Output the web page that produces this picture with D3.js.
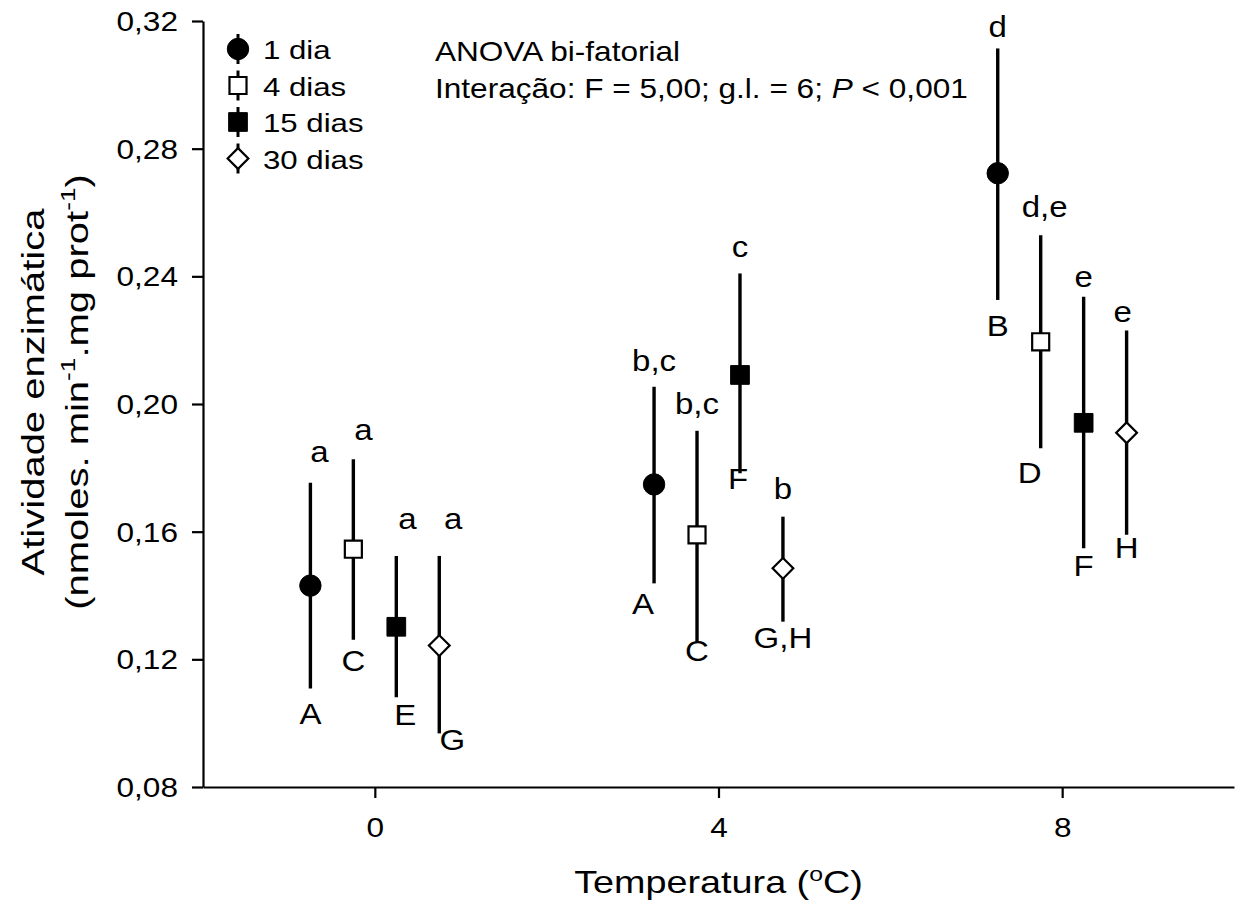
<!DOCTYPE html>
<html>
<head>
<meta charset="utf-8">
<script src="https://cdn.jsdelivr.net/npm/d3@7"></script>
<style>
    body { margin: 0; background: #fff; }
    svg text { font-family: "Liberation Sans", Arial, sans-serif; fill: #000; }
</style>
</head>
<body>
<svg id="chart" width="1239" height="908"></svg>
<script>

// temperatures (x axis) and series
const temperatures = [0, 4, 8];
const seriesNames = ['1 dia', '4 dias', '15 dias', '30 dias'];
const seriesShift = [-0.75, -0.25, 0.25, 0.75];

// means and error bar ends, one value per temperature
const dia1Mean = [0.1431, 0.1748, 0.2723];
const dia1Hi = [0.1753, 0.2054, 0.3114];
const dia1Lo = [0.1109, 0.1438, 0.2326];
const dia4Mean = [0.1545, 0.1590, 0.2195];
const dia4Hi = [0.1827, 0.1916, 0.2529];
const dia4Lo = [0.1261, 0.1255, 0.1861];
const dia15Mean = [0.1302, 0.2091, 0.1941];
const dia15Hi = [0.1524, 0.2409, 0.2336];
const dia15Lo = [0.1081, 0.1783, 0.1548];
const dia30Mean = [0.1243, 0.1485, 0.1910];
const dia30Hi = [0.1524, 0.1647, 0.2230];
const dia30Lo = [0.0968, 0.1318, 0.1590];

// significance letters
const upperLetters = [['a', 'b,c', 'd'], ['a', 'b,c', 'd,e'], ['a', 'c', 'e'], ['a', 'b', 'e']];
const lowerLetters = [['A', 'A', 'B'], ['C', 'C', 'D'], ['E', 'F', 'F'], ['G', 'G,H', 'H']];

const yTicks = [0.08, 0.12, 0.16, 0.20, 0.24, 0.28, 0.32];
const xTicks = [0, 4, 8];

// letter nudges (layout only)
const upDy = [[-30, -25, -20], [-28, -26, -27], [-36, -25, -19], [-36, -27, -18]];
const upDx = [[9, 0, 0], [10, 0, 4], [11, 0, 0], [14, 0, -4]];
const loDy = [[25, 20, 25], [20, 8, 24], [17, 5, 17], [6, 15, 12]];
const loDx = [[0, -11, 0], [0, 0, -11], [9, -2, 0], [13, 0, 0]];

const means = [dia1Mean, dia4Mean, dia15Mean, dia30Mean];
const his = [dia1Hi, dia4Hi, dia15Hi, dia30Hi];
const los = [dia1Lo, dia4Lo, dia15Lo, dia30Lo];
const symbolKind = ['circle', 'square', 'square', 'diamond'];
const symbolFill = ['#000', '#fff', '#000', '#fff'];

const svg = d3.select('#chart');
const stretch = 1.17;

const x = d3.scaleLinear().domain([-2, 10]).range([203, 1234]);
const y = d3.scaleLinear().domain([0.08, 0.32]).range([787, 21]);

function stretchText(sel, s) {
    sel.attr('transform', function () {
        const tx = +this.getAttribute('x') || 0;
        return `translate(${tx},0) scale(${s},1) translate(${-tx},0)`;
    });
}

// axes
let yAxis = svg.append('g')
    .attr('transform', `translate(${x(-2)},0)`)
    .call(d3.axisLeft(y).tickValues(yTicks).tickSize(11).tickSizeOuter(0).tickPadding(14)
        .tickFormat(d => d3.format('.2f')(d).replace('.', ',')));
yAxis.selectAll('text').attr('font-size', 27).attr('dy', '0.35em')
    .style('font-family', '"Liberation Sans", Arial, sans-serif');
stretchText(yAxis.selectAll('text'), stretch);

let xAxis = svg.append('g')
    .attr('transform', `translate(0,${y(0.08)})`)
    .call(d3.axisBottom(x).tickValues(xTicks).tickSize(11).tickSizeOuter(0).tickPadding(20)
        .tickFormat(d3.format('d')));
xAxis.selectAll('text').attr('font-size', 27)
    .style('font-family', '"Liberation Sans", Arial, sans-serif');
xAxis.selectAll('text').attr('transform', `scale(${stretch},1)`);

svg.selectAll('.domain, .tick line').attr('stroke', '#000').attr('stroke-width', 2.2);

// axis titles
svg.append('text')
    .attr('font-size', 32)
    .attr('text-anchor', 'middle')
    .attr('transform', `translate(${(x(-2) + x(10)) / 2},893) scale(1.18,1)`)
    .call(t => {
        t.append('tspan').text('Temperatura (');
        t.append('tspan').attr('font-size', 21).attr('dy', -12).text('o');
        t.append('tspan').attr('dy', 12).text('C)');
    });

let yTitle = svg.append('g')
    .attr('transform', `translate(0,${(y(0.08) + y(0.32)) / 2 - 12}) rotate(-90) scale(1.25,1)`);
yTitle.append('text')
    .attr('font-size', 32).attr('text-anchor', 'middle').attr('y', 44)
    .text('Atividade enzimática');
yTitle.append('text')
    .attr('font-size', 32).attr('text-anchor', 'middle').attr('y', 88)
    .call(t => {
        t.append('tspan').text('(nmoles. min');
        t.append('tspan').attr('font-size', 21).attr('dy', -13).text('-1');
        t.append('tspan').attr('dy', 13).text('.mg prot');
        t.append('tspan').attr('font-size', 21).attr('dy', -13).text('-1');
        t.append('tspan').attr('dy', 13).text(')');
    });

// symbols
function drawSymbol(g, kind, fill) {
    if (kind === 'circle') {
        g.append('path').attr('d', d3.symbol(d3.symbolCircle, 360)())
            .attr('fill', fill).attr('stroke', '#000').attr('stroke-width', 1);
    } else if (kind === 'square') {
        g.append('path').attr('d', d3.symbol(d3.symbolSquare, fill === '#000' ? 350 : 290)())
            .attr('fill', fill).attr('stroke', '#000').attr('stroke-width', fill === '#000' ? 1 : 2.2);
    } else {
        g.append('path').attr('d', d3.symbol(d3.symbolSquare, 215)())
            .attr('transform', 'rotate(45)')
            .attr('fill', fill).attr('stroke', '#000').attr('stroke-width', 2.2);
    }
}

const plot = svg.append('g');

seriesNames.forEach((name, i) => {
    temperatures.forEach((t, j) => {
        let cx = x(t + seriesShift[i]);
        plot.append('line')
            .attr('x1', cx).attr('x2', cx)
            .attr('y1', y(his[i][j])).attr('y2', y(los[i][j]))
            .attr('stroke', '#000').attr('stroke-width', 3.4);
        let g = plot.append('g').attr('transform', `translate(${cx},${y(means[i][j])})`);
        drawSymbol(g, symbolKind[i], symbolFill[i]);

        plot.append('text')
            .attr('font-size', 30).attr('text-anchor', 'middle')
            .attr('transform', `translate(${cx + upDx[i][j]},${y(his[i][j]) + upDy[i][j] + 9}) scale(1.1,1)`)
            .text(upperLetters[i][j]);
        plot.append('text')
            .attr('font-size', 30).attr('text-anchor', 'middle')
            .attr('transform', `translate(${cx + loDx[i][j]},${y(los[i][j]) + loDy[i][j] + 11}) scale(1.1,1)`)
            .text(lowerLetters[i][j]);
    });
});

// legend
let legend = svg.append('g');
seriesNames.forEach((name, i) => {
    let ly = 49 + i * 36.5;
    legend.append('line')
        .attr('x1', 238).attr('x2', 238).attr('y1', ly - 15).attr('y2', ly + 15)
        .attr('stroke', '#000').attr('stroke-width', 3);
    let g = legend.append('g').attr('transform', `translate(238,${ly})`);
    drawSymbol(g, symbolKind[i], symbolFill[i]);
    legend.append('text')
        .attr('font-size', 26)
        .attr('transform', `translate(263,${ly + 10}) scale(1.2,1)`)
        .text(name);
});

// annotation
svg.append('text')
    .attr('font-size', 27)
    .attr('transform', `translate(435,61) scale(${stretch},1)`)
    .text('ANOVA bi-fatorial');
svg.append('text')
    .attr('font-size', 27)
    .attr('transform', `translate(435,98) scale(${stretch},1)`)
    .call(t => {
        t.append('tspan').text('Interação: F = 5,00; g.l. = 6; ');
        t.append('tspan').attr('font-style', 'italic').text('P');
        t.append('tspan').text(' < 0,001');
    });

</script>
</body>
</html>
